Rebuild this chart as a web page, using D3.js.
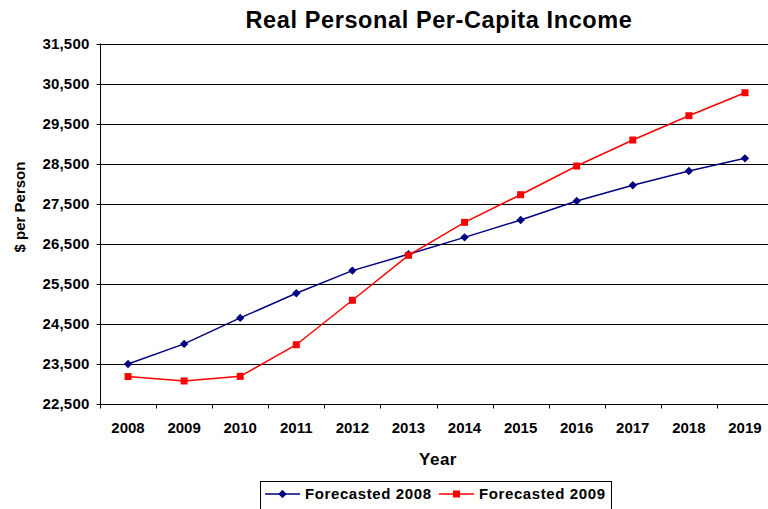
<!DOCTYPE html>
<html><head><meta charset="utf-8">
<script src="https://cdn.jsdelivr.net/npm/d3@7"></script>
<style>body{margin:0;background:#fff}svg{display:block;font-family:"Liberation Sans",Arial,sans-serif}</style>
</head><body><svg id="c" width="768" height="509"></svg>
<script>
const years = ["2008","2009","2010","2011","2012","2013","2014","2015","2016","2017","2018","2019"];
const forecast2008 = [23500,24000,24650,25265,25830,26240,26660,27093,27567,27960,28316,28633];
const forecast2009 = [23185,23075,23190,23980,25090,26212,27035,27725,28441,29090,29697,30271];
const yTicks = [22500,23500,24500,25500,26500,27500,28500,29500,30500,31500];
const seriesNames = ["Forecasted 2008","Forecasted 2009"];
const colors = ["#000080","#FF0000"];

const svg = d3.select("#c");
const L = 100, R = 773, T = 43.5, B = 404;
const x = d3.scaleBand().domain(years).range([L, R]);
const y = d3.scaleLinear().domain([22500, 31500]).range([B, T]);

// gridlines
svg.append("g").selectAll("line").data(yTicks.slice(1)).join("line")
  .attr("x1", L).attr("x2", R)
  .attr("y1", d => Math.round(y(d)) + 0.5).attr("y2", d => Math.round(y(d)) + 0.5)
  .attr("stroke", "#000").attr("stroke-width", 1);

// y axis
const ya = svg.append("g").attr("transform", `translate(${L + 0.5},0)`)
  .call(d3.axisLeft(y).tickValues(yTicks).tickSize(4).tickPadding(7).tickFormat(d3.format(",")));
ya.select(".domain").attr("stroke", "#000").attr("d", `M0,${T}V${B}`);
ya.selectAll(".tick line").attr("stroke", "#000");
ya.selectAll(".tick").attr("transform", d => `translate(0,${Math.round(y(d)) + 0.5})`);
ya.selectAll("text").attr("font-size", 15).attr("font-weight", "bold").attr("fill", "#000")
  .attr("letter-spacing", "0.2px")
  .attr("font-family", "Liberation Sans, Arial, sans-serif");

// x axis
const xa = svg.append("g").attr("transform", `translate(0,${B + 0.5})`);
xa.append("line").attr("x1", L).attr("x2", R).attr("stroke", "#000");
xa.selectAll("line.tk").data(d3.range(years.length + 1)).join("line").attr("class", "tk")
  .attr("x1", i => Math.round(L + i * x.step()) + 0.5).attr("x2", i => Math.round(L + i * x.step()) + 0.5)
  .attr("y1", 0).attr("y2", 4).attr("stroke", "#000");
xa.selectAll("text").data(years).join("text")
  .attr("x", d => x(d) + x.bandwidth() / 2).attr("y", 28)
  .attr("text-anchor", "middle").attr("font-size", 15).attr("font-weight", "bold").text(d => d);

// lines
const line = d3.line().x((d, i) => x(years[i]) + x.bandwidth() / 2).y(d => y(d));
[forecast2008, forecast2009].forEach((s, k) => {
  svg.append("path").datum(s).attr("d", line).attr("fill", "none")
    .attr("stroke", colors[k]).attr("stroke-width", 1.5);
});
// markers
const diamond = d3.symbol().type(d3.symbolDiamond2).size(45);
svg.append("g").selectAll("path").data(forecast2008).join("path")
  .attr("d", diamond)
  .attr("transform", (d, i) => `translate(${x(years[i]) + x.bandwidth() / 2},${y(d)})`)
  .attr("fill", colors[0]);
svg.append("g").selectAll("rect").data(forecast2009).join("rect")
  .attr("x", (d, i) => x(years[i]) + x.bandwidth() / 2 - 3.5).attr("y", d => y(d) - 3.5)
  .attr("width", 7).attr("height", 7).attr("fill", colors[1]);

// title
svg.append("text").attr("x", 439).attr("y", 28).attr("text-anchor", "middle")
  .attr("font-size", 23.5).attr("font-weight", "bold").attr("letter-spacing", "0.6px")
  .text("Real Personal Per-Capita Income");
// axis titles
svg.append("text").attr("x", 438).attr("y", 465).attr("text-anchor", "middle")
  .attr("font-size", 17).attr("font-weight", "bold").attr("letter-spacing", "0.5px").text("Year");
svg.append("text").attr("transform", "translate(25,207) rotate(-90)").attr("text-anchor", "middle")
  .attr("font-size", 15).attr("font-weight", "bold").text("$ per Person");

// legend
const lg = svg.append("g");
lg.append("rect").attr("x", 260.5).attr("y", 481.5).attr("width", 351).attr("height", 40)
  .attr("fill", "#fff").attr("stroke", "#000").attr("stroke-width", 1);
const items = [{x0: 265, tx: 305}, {x0: 439, tx: 479}];
items.forEach((it, k) => {
  lg.append("line").attr("x1", it.x0).attr("x2", it.x0 + 35).attr("y1", 494).attr("y2", 494)
    .attr("stroke", colors[k]).attr("stroke-width", 1.5);
  if (k === 0) {
    lg.append("path").attr("d", diamond).attr("transform", `translate(${it.x0 + 17.5},494)`).attr("fill", colors[0]);
  } else {
    lg.append("rect").attr("x", it.x0 + 17.5 - 3.5).attr("y", 490.5).attr("width", 7).attr("height", 7).attr("fill", colors[1]);
  }
  lg.append("text").attr("x", it.tx).attr("y", 499).attr("font-size", 15).attr("font-weight", "bold")
    .attr("letter-spacing", "0.6px").text(seriesNames[k]);
});
</script></body></html>
